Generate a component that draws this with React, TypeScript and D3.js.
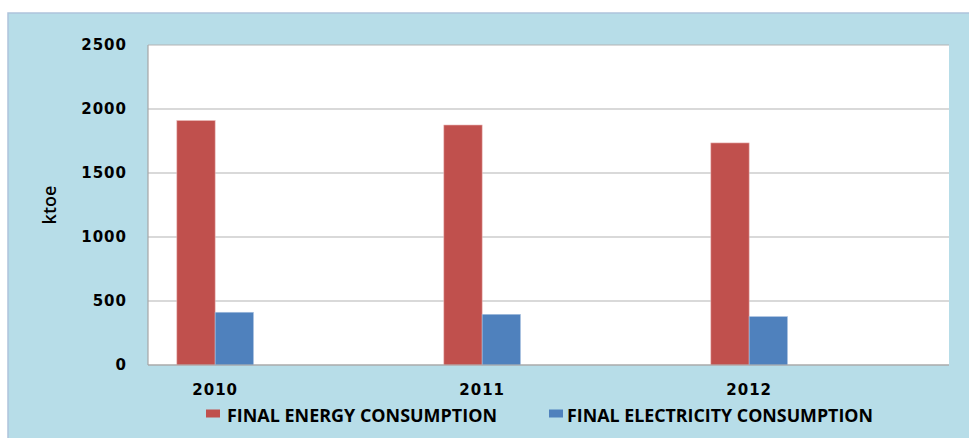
import React from "react";
import * as d3 from "d3";

const categories = ["2010", "2011", "2012"];
const seriesNames = ["FINAL ENERGY CONSUMPTION", "FINAL ELECTRICITY CONSUMPTION"];
const energyValues = [1910, 1875, 1735];
const electricityValues = [412, 396, 378];
const yTicks = [0, 500, 1000, 1500, 2000, 2500];
const seriesColors = ["#C0504D", "#4F81BD"];

const W = 969;
const H = 438;
const plot = { left: 148, right: 949, top: 45, bottom: 365 };

export default function App() {
  const x = d3.scaleBand<string>().domain(categories).range([plot.left, plot.right]).paddingInner(0).paddingOuter(0);
  const y = d3.scaleLinear().domain([0, 2500]).range([plot.bottom, plot.top]);
  const bw = x.bandwidth();
  const groupOffset = bw * 0.108;
  const barW = bw * 0.1435;
  const inner = d3.scaleBand<number>().domain([0, 1]).range([0, barW * 2]).padding(0);
  const seriesValues = [energyValues, electricityValues];

  return (
    <svg width={W} height={H} style={{ position: "absolute", left: 0, top: 0 }}>
      <rect x={8} y={13} width={W} height={H} fill="#B7DDE8" stroke="#AFC3DC" strokeWidth={1.5} />
      <rect x={plot.left} y={plot.top} width={plot.right - plot.left} height={plot.bottom - plot.top} fill="#FFFFFF" />
      {yTicks.map((t) => (
        <line key={"g" + t} x1={plot.left} x2={plot.right} y1={y(t)} y2={y(t)} stroke="#B3B3B3" strokeWidth={1.2} />
      ))}
      <line x1={plot.left} x2={plot.left} y1={plot.top} y2={plot.bottom} stroke="#A6A6A6" strokeWidth={1.2} />
      {categories.map((c, i) =>
        seriesValues.map((vals, s) => {
          const bx = (x(c) as number) + groupOffset + (inner(s) as number);
          return (
            <rect
              key={c + s}
              x={bx}
              y={y(vals[i])}
              width={inner.bandwidth()}
              height={y(0) - y(vals[i])}
              fill={seriesColors[s]}
              stroke={s === 0 ? "#E9B9B8" : "#A9C1E0"}
              strokeWidth={0.6}
            />
          );
        })
      )}
      <line x1={plot.left} x2={plot.right} y1={plot.bottom} y2={plot.bottom} stroke="#A6A6A6" strokeWidth={1.2} />
      {yTicks.map((t) => (
        <text
          key={"t" + t}
          x={127}
          y={y(t)}
          dy="0.36em"
          textAnchor="end"
          fontFamily="DejaVu Sans"
          fontWeight="bold"
          fontSize={15}
          letterSpacing={1}
          fill="#000"
        >
          {t}
        </text>
      ))}
      {categories.map((c) => (
        <text
          key={"x" + c}
          x={(x(c) as number) + groupOffset + barW}
          y={395}
          textAnchor="middle"
          fontFamily="DejaVu Sans"
          fontWeight="bold"
          fontSize={15}
          letterSpacing={1}
          fill="#000"
        >
          {c}
        </text>
      ))}
      <text
        transform={`translate(56, ${(plot.top + plot.bottom) / 2}) rotate(-90)`}
        textAnchor="middle"
        fontFamily="Open Sans"
        fontWeight={600}
        fontSize={18}
        fill="#000"
      >
        ktoe
      </text>
      {[
        { mx: 206, tx: 227, tw: 270 },
        { mx: 549, tx: 567, tw: 306 },
      ].map((l, s) => (
        <g key={"l" + s}>
          <rect x={l.mx} y={409.5} width={14} height={8} fill={seriesColors[s]} />
          <text
            x={l.tx}
            y={422}
            fontFamily="Open Sans"
            fontWeight="bold"
            fontSize={18}
            textLength={l.tw}
            lengthAdjust="spacingAndGlyphs"
            fill="#000"
          >
            {seriesNames[s]}
          </text>
        </g>
      ))}
    </svg>
  );
}
